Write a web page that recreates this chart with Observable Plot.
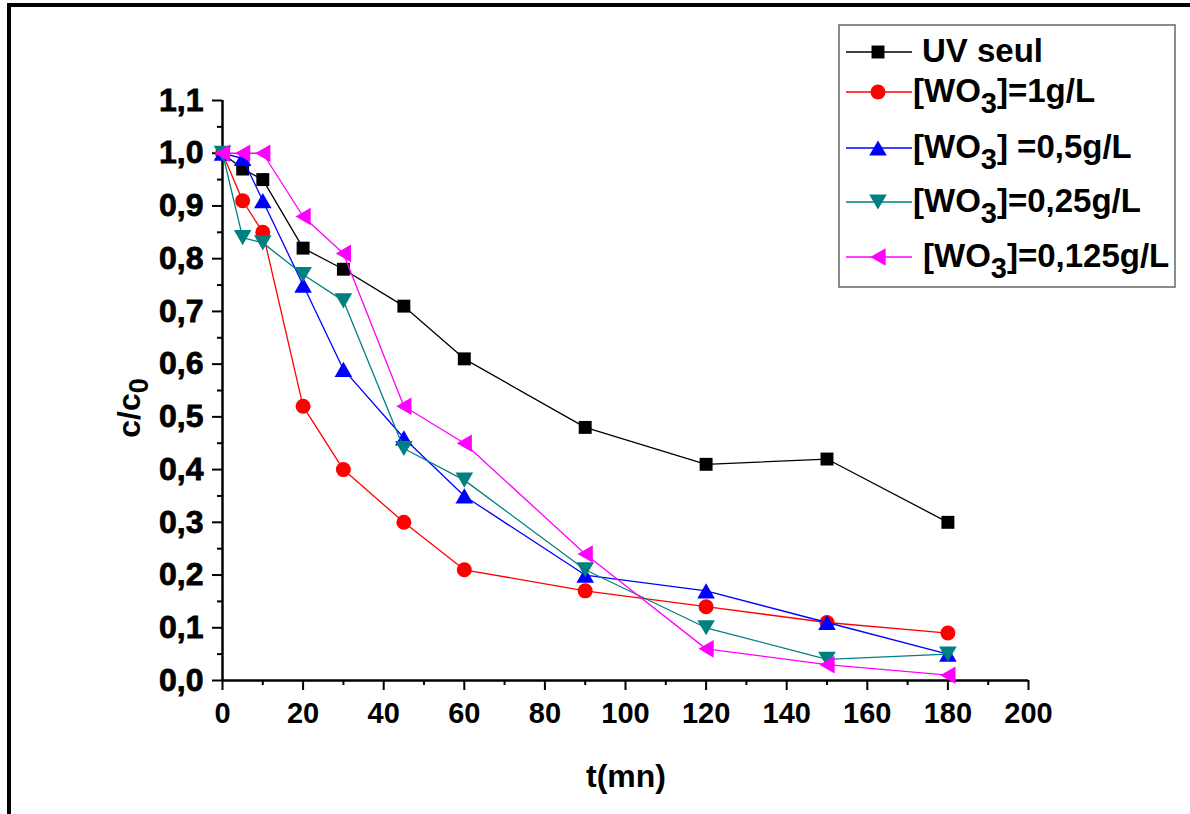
<!DOCTYPE html>
<html>
<head>
<meta charset="utf-8">
<script src="https://cdn.jsdelivr.net/npm/d3@7"></script>
<script src="https://cdn.jsdelivr.net/npm/@observablehq/plot@0.6"></script>
<style>
  html, body { margin: 0; padding: 0; background: #fff; }
  #chart { position: relative; width: 1190px; height: 814px; overflow: hidden; }
  #chart svg { position: absolute; left: 0; top: 0; }
  #border {
    position: absolute; left: 7px; top: 3px; right: 0; bottom: 0;
    border-top: 4px solid #000; border-left: 4px solid #000;
    pointer-events: none;
  }
</style>
</head>
<body>
<div id="chart"><div id="border"></div></div>
<script>
// Sampling times (min)
const times = [0, 5, 10, 20, 30, 45, 60, 90, 120, 150, 180];

// Normalised concentration c/c0 for each condition
const uvSeul   = [1.00, 0.97, 0.95, 0.82, 0.78, 0.71, 0.61, 0.48, 0.41, 0.42, 0.30];
const wo3_1    = [1.00, 0.91, 0.85, 0.52, 0.40, 0.30, 0.21, 0.17, 0.14, 0.11, 0.09];
const wo3_05   = [1.00, 0.99, 0.91, 0.75, 0.59, 0.46, 0.35, 0.20, 0.17, 0.11, 0.05];
const wo3_025  = [1.00, 0.84, 0.83, 0.77, 0.72, 0.44, 0.38, 0.21, 0.10, 0.04, 0.05];
const wo3_0125 = [1.00, 1.00, 1.00, 0.88, 0.81, 0.52, 0.45, 0.24, 0.06, 0.03, 0.01];

// Axis ticks
const xTicks = [0, 20, 40, 60, 80, 100, 120, 140, 160, 180, 200];
const xMinor = [10, 30, 50, 70, 90, 110, 130, 150, 170, 190];
const yTicks = [0, 0.1, 0.2, 0.3, 0.4, 0.5, 0.6, 0.7, 0.8, 0.9, 1.0, 1.1];
const yMinor = [0.05, 0.15, 0.25, 0.35, 0.45, 0.55, 0.65, 0.75, 0.85, 0.95, 1.05];

// Triangle markers pointing up, down and left
function triangle(dir) {
  return {
    draw(ctx, size) {
      const r = Math.sqrt(size / Math.PI);
      const w = r * 1.1, h = r * 0.95;
      if (dir === "up") { ctx.moveTo(0, -h); ctx.lineTo(w, h); ctx.lineTo(-w, h); }
      else if (dir === "down") { ctx.moveTo(0, h); ctx.lineTo(w, -h); ctx.lineTo(-w, -h); }
      else { ctx.moveTo(-h, 0); ctx.lineTo(h, -w); ctx.lineTo(h, w); }
      ctx.closePath();
    }
  };
}

const series = [
  {values: uvSeul,   color: "#000000", symbol: d3.symbolSquare, r: 7.3},
  {values: wo3_1,    color: "#ff0000", symbol: d3.symbolCircle, r: 7.5},
  {values: wo3_05,   color: "#0000ff", symbol: triangle("up"),   r: 8},
  {values: wo3_025,  color: "#008080", symbol: triangle("down"), r: 8},
  {values: wo3_0125, color: "#ff00ff", symbol: triangle("left"), r: 8}
];

const fmt = d => d.toFixed(1).replace(".", ",");

const marks = [
  Plot.axisX({ticks: xTicks, tickSize: 10, tickPadding: 12, fontSize: 29, fontWeight: "bold",
              strokeWidth: 2, tickFormat: d => String(d), label: null}),
  Plot.axisX({ticks: xMinor, tickSize: 5, strokeWidth: 2, tickFormat: () => "", label: null}),
  Plot.axisY({ticks: yTicks, tickSize: 10, tickPadding: 9, fontSize: 32, fontWeight: "bold",
              strokeWidth: 2, tickFormat: fmt, label: null}),
  Plot.axisY({ticks: yMinor, tickSize: 5, strokeWidth: 2, tickFormat: () => "", label: null}),
  Plot.ruleY([0], {strokeWidth: 2.5}),
  Plot.ruleX([0], {strokeWidth: 2.5})
];

for (const s of series) {
  const rows = times.map((t, i) => ({t, v: s.values[i]}));
  marks.push(Plot.line(rows, {x: "t", y: "v", stroke: s.color, strokeWidth: 1.3}));
  marks.push(Plot.dot(rows, {x: "t", y: "v", fill: s.color, symbol: s.symbol, r: s.r}));
}

const chart = Plot.plot({
  width: 1190,
  height: 814,
  marginLeft: 222,
  marginRight: 162,
  marginTop: 100,
  marginBottom: 134,
  x: {domain: [0, 200]},
  y: {domain: [0, 1.1]},
  style: {fontFamily: "'Liberation Sans', Arial, sans-serif", color: "#000", background: "transparent"},
  marks
});

document.getElementById("chart").insertBefore(chart, document.getElementById("border"));

const svg = d3.select(chart);
const font = "'Liberation Sans', Arial, sans-serif";

// Slightly heavier tick labels on the value axis
svg.selectAll("g[aria-label='y-axis tick label'] text")
  .attr("stroke", "#000").attr("stroke-width", 0.8);

// Axis titles
svg.append("text")
  .attr("x", 626).attr("y", 787)
  .attr("text-anchor", "middle")
  .attr("font-family", font).attr("font-weight", "bold").attr("font-size", 32)
  .text("t(mn)");

const yTitle = svg.append("text")
  .attr("transform", "translate(140,408) rotate(-90)")
  .attr("text-anchor", "middle")
  .attr("font-family", font).attr("font-weight", "bold").attr("font-size", 32);
yTitle.append("tspan").text("c/c");
yTitle.append("tspan").attr("font-size", 27).attr("dy", 8).text("0");

// Legend
const legendEntries = [
  {label: ["UV seul"], s: series[0], y: 52, tx: 922},
  {label: ["[WO", "3", "]=1g/L"], s: series[1], y: 92, tx: 913},
  {label: ["[WO", "3", "] =0,5g/L"], s: series[2], y: 148, tx: 913},
  {label: ["[WO", "3", "]=0,25g/L"], s: series[3], y: 202, tx: 913},
  {label: ["[WO", "3", "]=0,125g/L"], s: series[4], y: 257, tx: 923}
];

const legend = svg.append("g");
legend.append("rect")
  .attr("x", 839).attr("y", 25).attr("width", 336).attr("height", 262)
  .attr("fill", "#fff").attr("stroke", "#666").attr("stroke-width", 1.5);

for (const e of legendEntries) {
  legend.append("line")
    .attr("x1", 846).attr("x2", 912).attr("y1", e.y).attr("y2", e.y)
    .attr("stroke", e.s.color).attr("stroke-width", 1.3);
  legend.append("path")
    .attr("transform", `translate(878,${e.y})`)
    .attr("d", d3.symbol(e.s.symbol, e.s.r * e.s.r * Math.PI)())
    .attr("fill", e.s.color);
  const t = legend.append("text")
    .attr("x", e.tx).attr("y", e.y + 10)
    .attr("text-anchor", "start")
    .attr("font-family", font).attr("font-weight", "bold").attr("font-size", 33);
  t.append("tspan").text(e.label[0]);
  if (e.label.length > 1) {
    t.append("tspan").attr("font-size", 29).attr("dy", 11).text(e.label[1]);
    t.append("tspan").attr("dy", -11).text(e.label[2]);
  }
}
</script>
</body>
</html>
